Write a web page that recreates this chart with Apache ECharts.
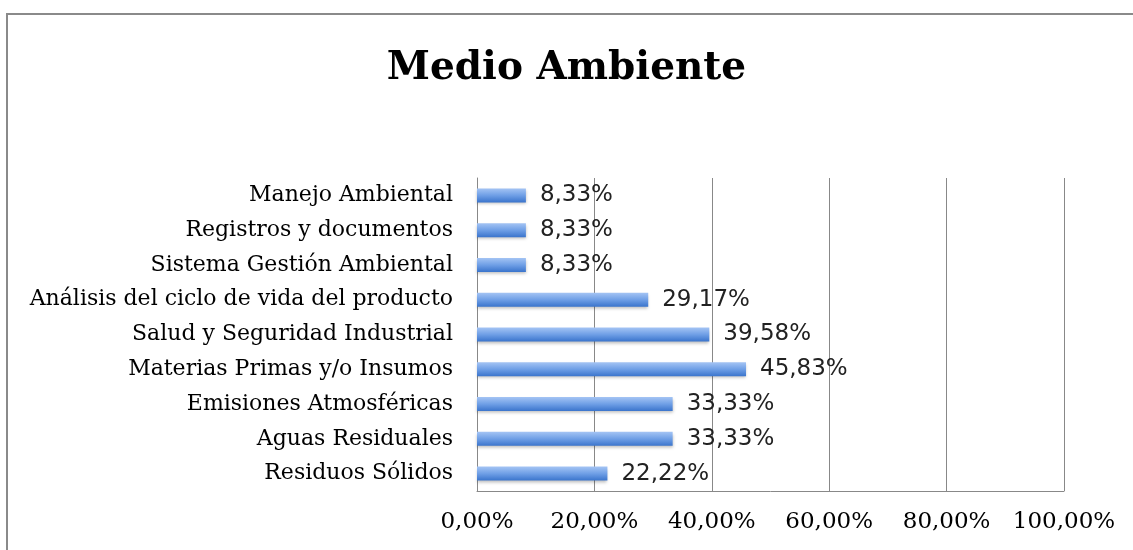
<!DOCTYPE html>
<html>
<head>
<meta charset="utf-8">
<script src="https://cdn.jsdelivr.net/npm/echarts@6/dist/echarts.min.js"></script>
<style>
  html, body { margin: 0; padding: 0; background: #fff; }
  #main { width: 1133px; height: 550px; }
</style>
</head>
<body>
<div id="main"></div>
<script>
// categorías de abajo hacia arriba (orden del eje)
var categorias = [
  "Residuos Sólidos",
  "Aguas Residuales",
  "Emisiones Atmosféricas",
  "Materias Primas y/o Insumos",
  "Salud y Seguridad Industrial",
  "Análisis del ciclo de vida del producto",
  "Sistema Gestión Ambiental",
  "Registros y documentos",
  "Manejo Ambiental"
];
var valores = [22.22, 33.33, 33.33, 45.83, 39.58, 29.17, 8.33, 8.33, 8.33];
var ticksX = [0, 20, 40, 60, 80, 100];

function pct(v) {
  return v.toFixed(2).replace(".", ",") + "%";
}

var myChart = echarts.init(document.getElementById("main"));
myChart.setOption({
  animation: false,
  title: {
    text: "Medio Ambiente",
    left: "center",
    top: 44,
    textStyle: {
      fontFamily: "DejaVu Serif",
      fontWeight: "bold",
      fontSize: 39,
      color: "#000"
    }
  },
  graphic: [
    {
      type: "rect",
      shape: { x: 7, y: 14, width: 1200, height: 600 },
      style: { fill: "none", stroke: "#8a8a8a", lineWidth: 2 },
      silent: true
    }
  ],
  grid: {
    left: 477,
    right: 69,
    top: 178,
    bottom: 59
  },
  xAxis: {
    type: "value",
    min: ticksX[0],
    max: ticksX[ticksX.length - 1],
    interval: 20,
    axisLine: { show: true, lineStyle: { color: "#888", width: 1 } },
    axisTick: { show: false },
    splitLine: { show: true, lineStyle: { color: "#888", width: 1 } },
    axisLabel: {
      formatter: function (v) { return pct(v); },
      fontFamily: "DejaVu Serif",
      fontSize: 23,
      color: "#000",
      margin: 20
    }
  },
  yAxis: {
    type: "category",
    data: categorias,
    axisLine: { show: true, lineStyle: { color: "#888", width: 1 } },
    axisTick: { show: false },
    axisLabel: {
      fontFamily: "DejaVu Serif",
      fontSize: 22,
      color: "#000",
      margin: 24
    }
  },
  series: [
    {
      type: "bar",
      data: valores,
      barWidth: 14,
      itemStyle: {
        color: new echarts.graphic.LinearGradient(0, 0, 0, 1, [
          { offset: 0, color: "#a4c4f4" },
          { offset: 0.5, color: "#6f9fe6" },
          { offset: 1, color: "#3a74cc" }
        ]),
        shadowColor: "rgba(0,0,0,0.25)",
        shadowBlur: 3,
        shadowOffsetY: 2
      },
      label: {
        show: true,
        position: "right",
        distance: 14,
        formatter: function (p) { return pct(p.value); },
        fontFamily: "DejaVu Sans",
        fontSize: 23,
        color: "#222"
      }
    }
  ]
});
</script>
</body>
</html>
